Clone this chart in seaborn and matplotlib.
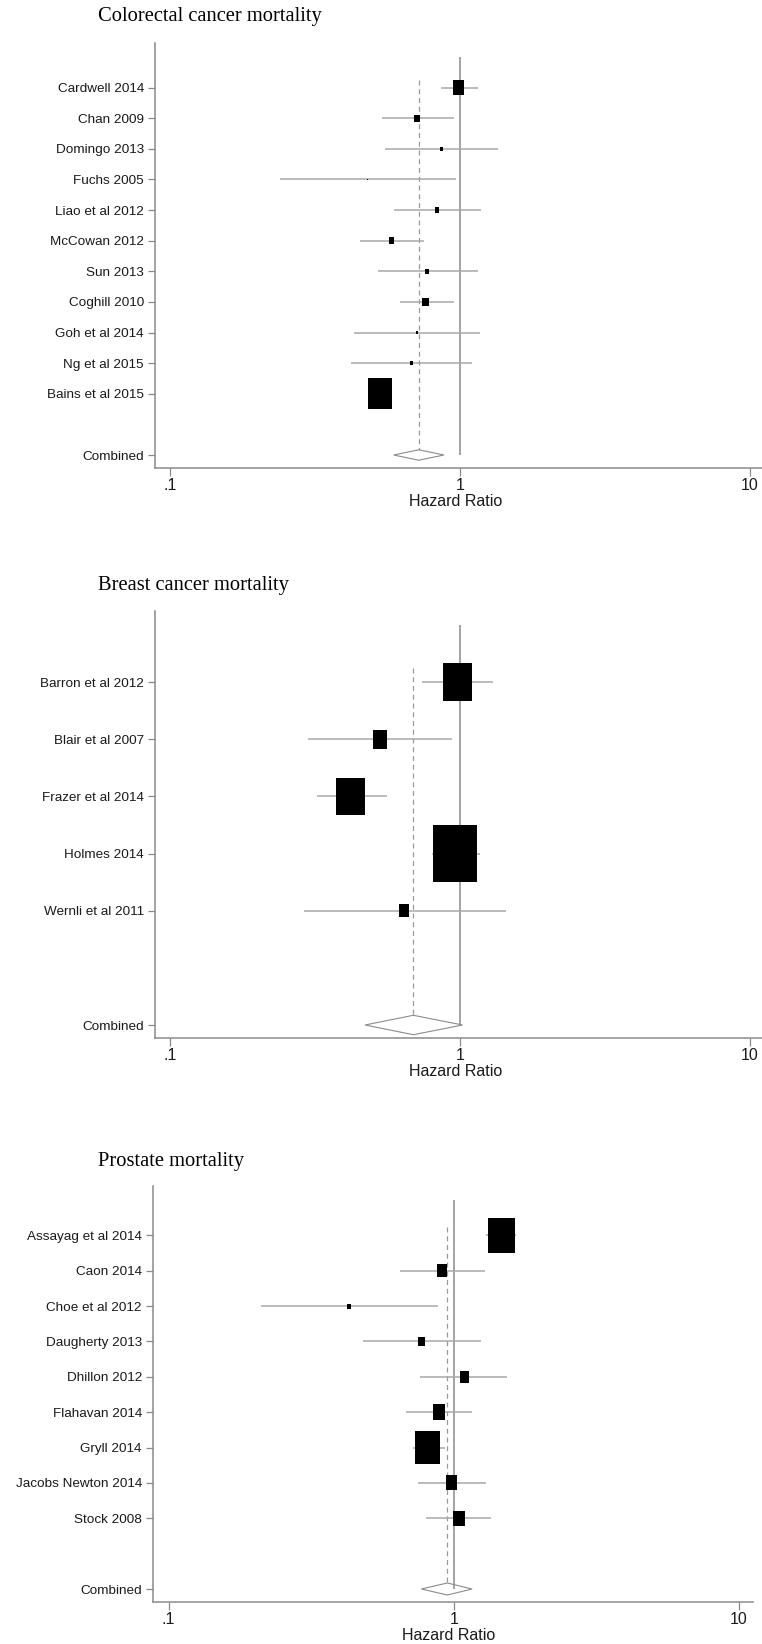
import numpy as np
import pandas as pd
import matplotlib
matplotlib.use("Agg")
import matplotlib.pyplot as plt
from matplotlib.path import Path
from matplotlib.patches import Polygon
import seaborn as sns

# ── data (hazard ratios, 95% CI, study weight %) ──
crc_studies = ["Cardwell 2014", "Chan 2009", "Domingo 2013", "Fuchs 2005",
               "Liao et al 2012", "McCowan 2012", "Sun 2013", "Coghill 2010",
               "Goh et al 2014", "Ng et al 2015", "Bains et al 2015"]
crc_hr = [0.99, 0.71, 0.86, 0.48, 0.83, 0.58, 0.77, 0.76, 0.71, 0.68, 0.53]
crc_lo = [0.86, 0.54, 0.55, 0.24, 0.59, 0.45, 0.52, 0.62, 0.43, 0.42, 0.50]
crc_hi = [1.15, 0.95, 1.35, 0.97, 1.18, 0.75, 1.15, 0.95, 1.17, 1.10, 0.57]
crc_wt = [14.4, 3.8, 1.1, 0.2, 2.0, 3.8, 1.5, 5.3, 0.8, 1.1, 66.0]
crc_pooled = [0.72, 0.59, 0.88]

brc_studies = ["Barron et al 2012", "Blair et al 2007", "Frazer et al 2014",
               "Holmes 2014", "Wernli et al 2011"]
brc_hr = [0.98, 0.53, 0.42, 0.96, 0.64]
brc_lo = [0.74, 0.30, 0.32, 0.80, 0.29]
brc_hi = [1.30, 0.94, 0.56, 1.17, 1.44]
brc_wt = [21.5, 5.3, 21.2, 49.3, 2.7]
brc_pooled = [0.69, 0.47, 1.02]

pc_studies = ["Assayag et al 2014", "Caon 2014", "Choe et al 2012",
              "Daugherty 2013", "Dhillon 2012", "Flahavan 2014", "Gryll 2014",
              "Jacobs Newton 2014", "Stock 2008"]
pc_hr = [1.47, 0.91, 0.43, 0.77, 1.09, 0.89, 0.81, 0.98, 1.04]
pc_lo = [1.30, 0.65, 0.21, 0.48, 0.76, 0.68, 0.72, 0.75, 0.80]
pc_hi = [1.66, 1.29, 0.88, 1.25, 1.54, 1.16, 0.93, 1.30, 1.35]
pc_wt = [36.4, 4.7, 0.7, 2.4, 4.2, 7.4, 30.7, 6.4, 7.0]
pc_pooled = [0.95, 0.77, 1.16]

xticks = [0.1, 1, 10]
xtick_labels = [".1", "1", "10"]

# ── style ──
sns.set_style("white")
plt.rcParams["font.family"] = ["Liberation Sans", "DejaVu Sans"]

W, H, DPI = 762, 1644, 100
fig = plt.figure(figsize=(W / DPI, H / DPI), dpi=DPI)

GRID = "#8a8a8a"
CI_COL = "#a8a8a8"

# box marker: taller than wide (the original graph was stretched vertically)
rect = Path([(-0.385, -0.5), (0.385, -0.5), (0.385, 0.5), (-0.385, 0.5), (0, 0)],
            [Path.MOVETO, Path.LINETO, Path.LINETO, Path.LINETO, Path.CLOSEPOLY])

panels = [
    ("Colorectal cancer mortality", crc_studies, crc_hr, crc_lo, crc_hi, crc_wt, crc_pooled,
     dict(left=155, right=764, top=43, bottom=468, title_y=17, xl=-1.052, xr=1.048)),
    ("Breast cancer mortality", brc_studies, brc_hr, brc_lo, brc_hi, brc_wt, brc_pooled,
     dict(left=155, right=764, top=611, bottom=1038, title_y=585, xl=-1.052, xr=1.048)),
    ("Prostate mortality", pc_studies, pc_hr, pc_lo, pc_hi, pc_wt, pc_pooled,
     dict(left=153, right=753, top=1186, bottom=1602, title_y=1161, xl=-1.055, xr=1.05)),
]

for title, names, hr, lo, hi, wt, pooled, lay in panels:
    n = len(names)
    ax_h = lay["bottom"] - lay["top"]
    ax = fig.add_axes([lay["left"] / W, 1 - lay["bottom"] / H,
                       (lay["right"] - lay["left"]) / W, ax_h / H])
    row_px = (ax_h - 27) / (n + 2)

    df = pd.DataFrame({"study": names, "hr": hr, "lo": lo, "hi": hi, "weight": wt,
                       "pos": np.arange(1, n + 1)})
    comb_pos = n + 2

    # reference lines
    ax.vlines(1, 0, comb_pos, color=GRID, lw=1.1, zorder=1)
    ax.vlines(pooled[0], 0.75, comb_pos - 0.17, color="#9a9a9a", lw=0.9,
              linestyles=(0, (4, 3)), zorder=1)

    # confidence intervals
    ax.hlines(df["pos"], df["lo"], df["hi"], color=CI_COL, lw=1.1, zorder=2)

    # weighted boxes, area proportional to study weight
    side_pt = row_px * 72 / DPI
    sns.scatterplot(data=df, x="hr", y="pos", size="weight",
                    sizes=(0, side_pt ** 2), size_norm=(0, max(wt)),
                    marker=rect, color="black", edgecolor="none", linewidth=0,
                    legend=False, ax=ax, zorder=3)

    # pooled estimate diamond
    est, plo, phi = pooled
    ax.add_patch(Polygon([(plo, comb_pos), (est, comb_pos - 0.17),
                          (phi, comb_pos), (est, comb_pos + 0.17)],
                         closed=True, fill=False, ec="#8c8c8c", lw=0.8, zorder=3))

    ax.set_xscale("log")
    ax.set_xlim(10 ** lay["xl"], 10 ** lay["xr"])
    ax.set_ylim(comb_pos + 13 / row_px, -14 / row_px)
    ax.set_xticks(xticks)
    ax.set_xticklabels(xtick_labels)
    ax.xaxis.set_minor_locator(matplotlib.ticker.NullLocator())
    ax.set_yticks(list(df["pos"]) + [comb_pos])
    ax.set_yticklabels(names + ["Combined"])

    ax.tick_params(axis="y", length=5, width=0.9, color=GRID, pad=3,
                   labelsize=9.7, labelcolor="#1a1a1a", left=True)
    ax.tick_params(axis="x", length=5.8, width=0.9, color=GRID, pad=1.5,
                   labelsize=11.5, labelcolor="#1a1a1a", bottom=True)

    ax.set_ylabel("")
    ax.set_xlabel("Hazard Ratio", fontsize=11.5, color="#1a1a1a")
    ax.xaxis.set_label_coords(0.493, -26 / ax_h)
    ax.xaxis.label.set_va("top")

    sns.despine(ax=ax)
    for side in ["left", "bottom"]:
        ax.spines[side].set_color(GRID)
        ax.spines[side].set_linewidth(1.1)

    fig.text(98 / W, 1 - lay["title_y"] / H, title, family=["Liberation Serif", "DejaVu Serif"],
             fontsize=14.8, va="center", ha="left", color="black")

fig.savefig("out.png", dpi=DPI, facecolor="white")
